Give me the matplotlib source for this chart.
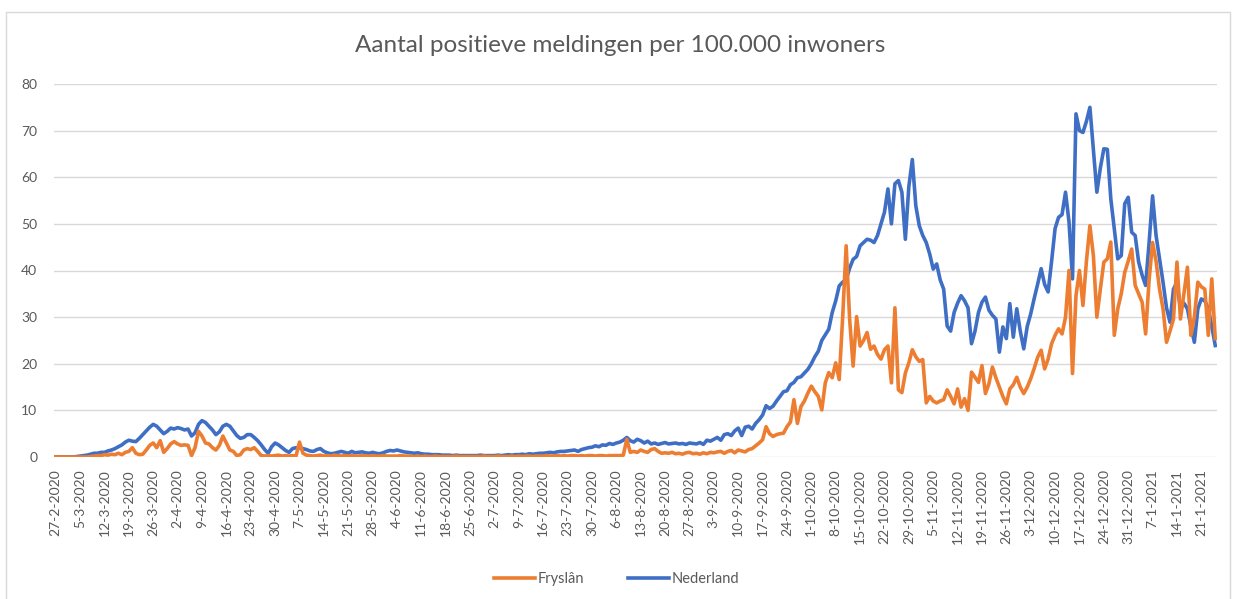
import matplotlib
matplotlib.use("Agg")
import matplotlib.pyplot as plt
from matplotlib.lines import Line2D
import pandas as pd

# Daily positive reports per 100.000 inhabitants, 27-2-2020 .. 25-1-2021
start_date = "2020-02-27"

nederland = [
    0, 0, 0, 0, 0, 0, 0.1,
    0.2, 0.3, 0.4, 0.6, 0.8, 0.8, 1.0,
    1.0, 1.3, 1.5, 1.8, 2.2, 2.6, 3.2,
    3.6, 3.4, 3.3, 4.0, 4.8, 5.6, 6.4,
    7.0, 6.6, 5.8, 5.0, 5.5, 6.2, 6.0,
    6.3, 6.1, 5.8, 6.0, 4.5, 5.2, 7.0,
    7.8, 7.4, 6.6, 5.8, 4.8, 5.4, 6.6,
    7.0, 6.6, 5.6, 4.6, 4.0, 4.2, 4.8,
    4.8, 4.2, 3.5, 2.6, 1.6, 0.8, 2.2,
    3.0, 2.6, 2.0, 1.4, 1.0, 1.8, 2.0,
    1.9, 1.8, 1.6, 1.3, 1.2, 1.6, 1.8,
    1.2, 0.9, 0.7, 0.8, 1.0, 1.2, 1.0,
    0.8, 1.2, 0.9, 1.0, 1.1, 0.9, 0.8,
    1.0, 0.8, 0.7, 0.9, 1.2, 1.4, 1.3,
    1.5, 1.3, 1.1, 1.0, 0.9, 0.8, 0.9,
    0.7, 0.6, 0.6, 0.5, 0.5, 0.5, 0.4,
    0.4, 0.4, 0.3, 0.4, 0.3, 0.3, 0.3,
    0.3, 0.3, 0.3, 0.4, 0.3, 0.3, 0.3,
    0.3, 0.4, 0.3, 0.4, 0.5, 0.4, 0.5,
    0.5, 0.6, 0.5, 0.7, 0.6, 0.7, 0.8,
    0.8, 0.9, 1.0, 0.9, 1.1, 1.2, 1.2,
    1.3, 1.4, 1.5, 1.2, 1.6, 1.8, 2.0,
    2.1, 2.4, 2.2, 2.6, 2.5, 2.9, 2.7,
    3.0, 3.2, 3.6, 4.2, 3.5, 3.2, 3.8,
    3.5, 3.0, 3.4, 2.8, 3.0, 2.7, 2.9,
    3.1, 2.8, 2.9, 3.0, 2.8, 2.9, 2.7,
    3.0, 2.9, 2.8, 3.1, 2.7, 3.6, 3.4,
    3.8, 4.2, 3.6, 4.8, 5.0, 4.6, 5.6,
    6.2, 4.6, 6.4, 6.6, 6.0, 7.2, 8.0,
    9.0, 11.0, 10.4, 10.9, 12.0, 13.0, 14.0,
    14.2, 15.5, 16.0, 17.0, 17.2, 18.0, 18.8,
    20.0, 21.5, 22.7, 25.0, 26.2, 27.4, 31.0,
    33.5, 36.7, 37.5, 38.0, 40.5, 42.4, 43.0,
    45.3, 46.0, 46.7, 46.5, 46.0, 47.5, 50.0,
    52.5, 57.5, 50.0, 58.6, 59.3, 56.8, 46.7,
    58.0, 63.8, 53.9, 49.6, 47.5, 46.0, 43.5,
    40.3, 41.4, 38.0, 36.0, 28.1, 27.0, 31.0,
    33.0, 34.6, 33.5, 32.0, 24.3, 27.0, 31.0,
    33.2, 34.3, 31.5, 30.4, 29.6, 22.5, 27.9,
    25.4, 32.9, 25.7, 31.8, 27.0, 23.2, 28.0,
    30.7, 34.0, 37.1, 40.4, 37.0, 35.4, 42.0,
    49.0, 51.4, 52.0, 56.8, 50.4, 38.2, 73.6,
    70.0, 69.6, 72.0, 75.0, 66.0, 56.8, 62.0,
    66.1, 66.0, 55.4, 49.0, 42.5, 43.2, 54.3,
    55.7, 48.2, 47.5, 41.8, 39.0, 36.8, 46.0,
    56.0, 47.5, 42.5, 37.5, 32.0, 28.9, 36.0,
    37.5, 31.8, 33.0, 31.8, 28.0, 24.6, 31.8,
    33.9, 33.5, 31.8, 28.0, 23.9,
]

fryslan = [
    0, 0, 0, 0, 0, 0, 0,
    0, 0, 0, 0.1, 0.2, 0.3, 0.3,
    0.5, 0.4, 0.6, 0.5, 0.8, 0.5, 1.0,
    1.2, 2.0, 0.8, 0.5, 0.6, 1.5, 2.5,
    3.0, 2.0, 3.5, 1.0, 1.8, 2.8, 3.3,
    2.8, 2.5, 2.6, 2.5, 0.3, 2.0, 5.5,
    4.5, 3.0, 2.8, 2.0, 1.5, 2.5, 4.5,
    3.0, 1.5, 1.2, 0.3, 0.5, 1.5, 1.8,
    1.6, 2.0, 1.2, 0.3, 0.2, 0.3, 0.2,
    0.3, 0.4, 0.2, 0.3, 0.2, 0.3, 0.2,
    3.2, 0.8, 0.4, 0.3, 0.2, 0.3, 0.4,
    0.2, 0.3, 0.2, 0.4, 0.3, 0.2, 0.3,
    0.2, 0.3, 0.2, 0.2, 0.3, 0.2, 0.2,
    0.3, 0.2, 0.2, 0.3, 0.2, 0.2, 0.2,
    0.2, 0.3, 0.2, 0.2, 0.2, 0.1, 0.2,
    0.1, 0.2, 0.1, 0.1, 0.2, 0.1, 0.1,
    0.1, 0.1, 0.1, 0.2, 0.1, 0.1, 0.1,
    0.1, 0.1, 0.1, 0.1, 0.2, 0.1, 0.1,
    0.1, 0.2, 0.1, 0.1, 0.1, 0.2, 0.1,
    0.2, 0.1, 0.2, 0.2, 0.1, 0.2, 0.2,
    0.2, 0.3, 0.2, 0.2, 0.3, 0.2, 0.3,
    0.2, 0.3, 0.3, 0.2, 0.3, 0.2, 0.3,
    0.3, 0.2, 0.3, 0.3, 0.2, 0.3, 0.3,
    0.3, 0.3, 0.4, 3.8, 1.0, 1.2, 1.0,
    1.5, 1.2, 1.0, 1.6, 1.8, 1.2, 0.8,
    0.9, 0.8, 1.0, 0.7, 0.8, 0.6, 0.9,
    1.0, 0.7, 0.8, 0.6, 0.9, 0.7, 1.0,
    0.9, 1.1, 1.2, 0.8, 1.2, 1.4, 0.9,
    1.5, 1.3, 1.1, 1.6, 1.8, 2.4, 3.0,
    3.7, 6.5, 5.0, 4.4, 4.8, 5.0, 5.1,
    6.5, 7.5, 12.3, 7.2, 10.8, 12.0, 13.7,
    15.2, 14.0, 13.0, 10.1, 15.9, 18.1, 17.0,
    20.2, 16.6, 30.0, 45.3, 29.5, 19.5, 30.1,
    23.8, 25.0, 26.7, 23.1, 23.8, 22.0, 21.0,
    23.0, 23.8, 15.9, 32.0, 14.4, 13.8, 18.0,
    20.2, 23.0, 21.5, 20.5, 20.9, 11.6, 13.0,
    12.0, 11.6, 12.0, 12.3, 14.4, 13.0, 11.4,
    14.6, 10.7, 12.5, 10.0, 18.2, 17.1, 16.0,
    19.6, 13.6, 15.7, 19.3, 17.0, 15.0, 13.0,
    11.4, 14.6, 15.5, 17.1, 15.0, 13.6, 15.0,
    16.8, 19.0, 21.4, 22.9, 18.9, 21.0, 24.3,
    26.1, 27.5, 26.4, 30.0, 40.0, 17.9, 34.6,
    40.0, 32.5, 42.0, 49.6, 43.2, 30.0, 36.0,
    41.8, 42.5, 46.1, 26.1, 31.8, 35.0, 39.6,
    42.0, 44.6, 36.8, 35.0, 33.2, 26.4, 38.0,
    46.0, 42.0, 36.0, 31.8, 24.6, 27.0, 29.6,
    41.8, 29.6, 35.0, 40.7, 26.1, 30.0, 37.5,
    36.5, 36.0, 26.1, 38.2, 25.4,
]

dates = pd.date_range(start_date, periods=len(nederland), freq="D")
date_labels = [f"{d.day}-{d.month}-{d.year}" for d in dates]

ORANGE = "#ED7D31"
BLUE = "#3F6FC5"
GREY = "#595959"

plt.rcParams["font.family"] = ["Lato", "DejaVu Sans"]

fig = plt.figure(figsize=(12.34, 5.99), dpi=100)
ax = fig.add_axes([54 / 1234, 1 - 457 / 599, (1217 - 54) / 1234, (457 - 84) / 599])

x = list(range(len(nederland)))
ax.plot(x, nederland, color=BLUE, linewidth=2.6, zorder=3, solid_joinstyle="round")
ax.plot(x, fryslan, color=ORANGE, linewidth=2.6, zorder=4, solid_joinstyle="round")

ax.set_xlim(-0.5, len(nederland) - 0.5)
ax.set_ylim(0, 80)
ax.set_yticks(range(0, 81, 10))
ax.yaxis.grid(True, color="#D9D9D9", linewidth=1.0)
ax.set_axisbelow(True)
for s in ax.spines.values():
    s.set_visible(False)

tick_idx = list(range(0, len(date_labels), 7))
ax.set_xticks(tick_idx)
ax.set_xticklabels([date_labels[i] for i in tick_idx], rotation=90)
ax.tick_params(axis="x", length=0, pad=9, labelsize=10, labelcolor=GREY)
ax.tick_params(axis="y", length=0, pad=12, labelsize=10, labelcolor=GREY)

fig.text(0.5025, 1 - 45 / 599, "Aantal positieve meldingen per 100.000 inwoners",
         ha="center", va="center", fontsize=17.5, color=GREY)

handles = [Line2D([], [], color=ORANGE, linewidth=2.6),
           Line2D([], [], color=BLUE, linewidth=2.6)]
fig.legend(handles, ["Fryslân", "Nederland"], loc="center",
           bbox_to_anchor=(0.5, 1 - 579 / 599), ncol=2, frameon=False,
           fontsize=10.5, labelcolor=GREY, handlelength=2.8,
           handletextpad=0.2, columnspacing=3.0)

# light chart border like the spreadsheet chart object
fig.add_artist(Line2D([6 / 1234, 6 / 1234, 1230 / 1234, 1230 / 1234],
                      [0, 1 - 12 / 599, 1 - 12 / 599, 0],
                      transform=fig.transFigure, color="#D9D9D9", linewidth=1.0))

fig.savefig("out.png", dpi=100, facecolor="white")
